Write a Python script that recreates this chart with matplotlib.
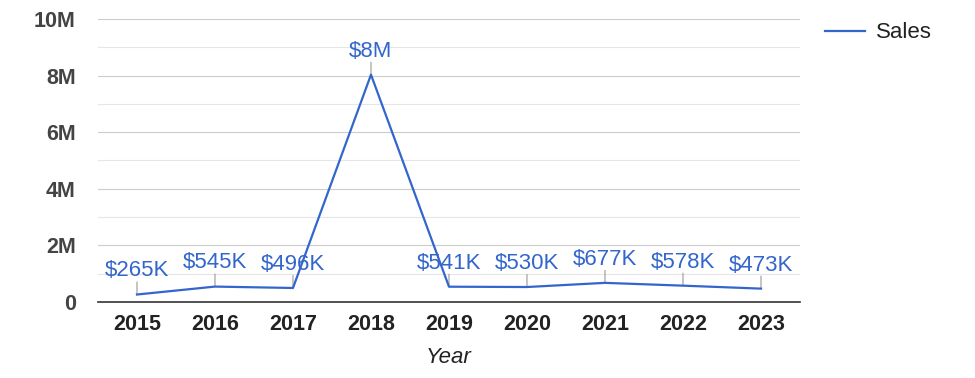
import numpy as np
import matplotlib.pyplot as plt
from matplotlib.ticker import FuncFormatter, MultipleLocator

# Data
years = ['2015', '2016', '2017', '2018', '2019', '2020', '2021', '2022', '2023']
sales = [265000, 545000, 496000, 8030000, 541000, 530000, 677000, 578000, 473000]
labels = ['$265K', '$545K', '$496K', '$8M', '$541K', '$530K', '$677K', '$578K', '$473K']

plt.rcParams['font.family'] = ['Liberation Sans', 'DejaVu Sans']

fig = plt.figure(figsize=(9.75, 3.78), dpi=100)
ax = fig.add_axes([0.1005, 0.201, 0.7200, 0.749])

x = np.arange(len(years))
blue = '#3366cc'
ax.plot(x, sales, color=blue, linewidth=1.6, label='Sales', zorder=3)

# Data labels with small leader lines
for xi, yi, lab in zip(x, sales, labels):
    ax.annotate('', xy=(xi, yi), xytext=(0, 9), textcoords='offset points',
                arrowprops=dict(arrowstyle='-', color='#999999', lw=0.8,
                                shrinkA=0, shrinkB=0), zorder=2)
    ax.annotate(lab, xy=(xi, yi), xytext=(0, 17), textcoords='offset points',
                ha='center', va='center', color=blue, fontsize=16, zorder=4)

ax.set_xlim(-0.5, len(years) - 0.5)
ax.set_ylim(0, 10000000)
ax.set_xticks(x)
ax.set_xticklabels(years, fontweight='bold', fontsize=15.5, color='#222222')
ax.yaxis.set_major_locator(MultipleLocator(2000000))
ax.yaxis.set_minor_locator(MultipleLocator(1000000))
ax.yaxis.set_major_formatter(FuncFormatter(lambda v, p: '0' if v == 0 else f'{int(v / 1e6)}M'))
for t in ax.get_yticklabels():
    t.set_fontweight('bold')
ax.tick_params(axis='y', labelsize=15.5, labelcolor='#444444', length=0, pad=16)
ax.tick_params(axis='y', which='minor', length=0)
ax.tick_params(axis='x', length=0, pad=8.5)

ax.grid(axis='y', which='major', color='#cccccc', linewidth=0.8)
ax.grid(axis='y', which='minor', color='#e6e6e6', linewidth=0.8)
for s in ['top', 'right', 'left']:
    ax.spines[s].set_visible(False)
ax.spines['bottom'].set_color('#333333')
ax.spines['bottom'].set_linewidth(1.2)

ax.set_xlabel('Year', fontstyle='italic', fontsize=16, color='#222222', labelpad=9)

leg = ax.legend(loc='upper left', bbox_to_anchor=(1.007, 1.058), frameon=False,
                fontsize=16, handlelength=1.8, handletextpad=0.5)
for t in leg.get_texts():
    t.set_color('#222222')

fig.savefig('out.png', dpi=100)
